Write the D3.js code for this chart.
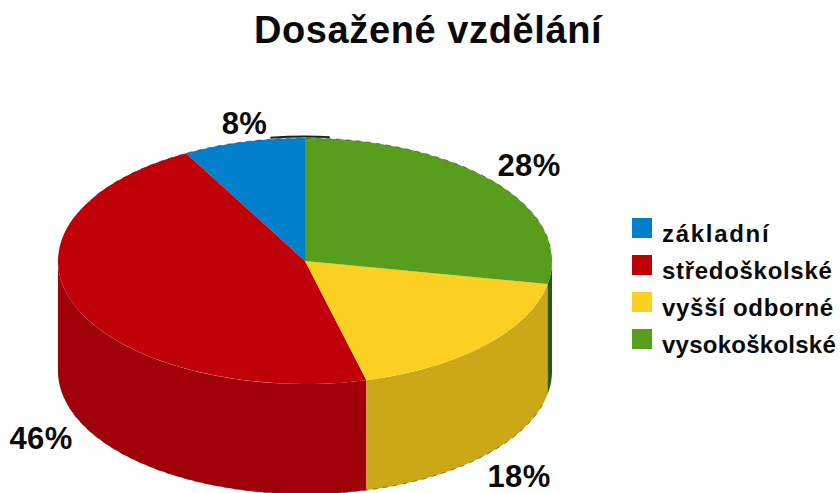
<!DOCTYPE html>
<html><head><meta charset="utf-8">
<script src="https://cdn.jsdelivr.net/npm/d3@7"></script>
<style>html,body{margin:0;padding:0;background:#fff}svg{display:block}text{font-family:"Liberation Sans",Arial,sans-serif;font-weight:bold;fill:#0a0a0a}</style>
</head><body><svg width="840" height="493"></svg>
<script>
const title = "Dosažené vzdělání";
const categories = ["základní","středoškolské","vyšší odborné","vysokoškolské"];
const values = [8,46,18,28];
const topColors = ["#0080cc","#c00008","#fcd020","#589e1c"];
const sideColors = ["#005a90","#a00008","#cca818","#245c0e"];
const legendTracking = [1.7,0.7,0.7,0.25];

const svg = d3.select("svg");
const cx = 305, cy = 261, rx = 247, ry = 123, depth = 110;

// pie runs counter-clockwise from 12 o'clock so that the last category starts there going clockwise
const pie = d3.pie().sort(null).value(d => d.v).startAngle(2*Math.PI).endAngle(0);
const slices = pie(categories.map((c,i)=>({c,v:values[i],i})));

const px = d3.scaleLinear().domain([-1,1]).range([cx-rx,cx+rx]);
const py = d3.scaleLinear().domain([-1,1]).range([cy-ry,cy+ry]);
const rim = (a,dy) => [px(Math.sin(a)),py(-Math.cos(a))+dy];
const sweep = (lo,hi) => d3.range(0,61).map(k=>lo+(hi-lo)*k/60);

// side walls (visible where the rim faces the viewer: angle between 90 and 270 degrees)
function wallPath(a0,a1){
  const lo=Math.max(Math.min(a0,a1),Math.PI/2), hi=Math.min(Math.max(a0,a1),3*Math.PI/2);
  if(hi<=lo) return null;
  const ang=sweep(lo,hi);
  return d3.line()(ang.map(a=>rim(a,0)).concat(ang.slice().reverse().map(a=>rim(a,depth))))+"Z";
}
svg.append("g").selectAll("path").data(slices).join("path")
  .attr("d",d=>wallPath(d.startAngle,d.endAngle))
  .attr("fill",d=>sideColors[d.data.i]);

// top face
const arc = d3.arc().innerRadius(0).outerRadius(rx);
svg.append("path").attr("d",d3.arc().innerRadius(rx-1).outerRadius(rx+3).startAngle(-0.14).endAngle(0.1)())
  .attr("transform",`translate(${cx},${cy-1}) scale(1,${ry/rx})`).attr("fill","#122");
svg.append("g").attr("transform",`translate(${cx},${cy}) scale(1,${ry/rx})`)
  .selectAll("path").data(slices).join("path")
  .attr("d",d=>arc({innerRadius:0,outerRadius:rx,startAngle:d.startAngle,endAngle:d.endAngle}))
  .attr("fill",d=>topColors[d.data.i]);

// speckled dark rim along the outline
const outline = (lo,hi,dy) => d3.line()(sweep(lo,hi).map(a=>rim(a,dy)));
svg.append("g").attr("fill","none").attr("stroke","#222").attr("stroke-opacity",0.5)
  .attr("stroke-dasharray","5 5")
  .selectAll("path").data([outline(-1.0,1.45,0),outline(1.85,4.4,depth)]).join("path").attr("d",d=>d);

svg.append("text").attr("x",254).attr("y",43).attr("letter-spacing",0.6)
  .attr("font-size",38).text(title);

// value labels
const labelPos = [[244.5,134],[41,449],[519,487],[529,176]];
svg.append("g").selectAll("text").data(values).join("text")
  .attr("x",(d,i)=>labelPos[i][0]).attr("y",(d,i)=>labelPos[i][1])
  .attr("text-anchor","middle").attr("font-size",31).attr("letter-spacing",0.4).text(d=>d+"%");

// legend
const ly = d3.scalePoint().domain(categories).range([218,329]);
const lg = svg.append("g").selectAll("g").data(categories).join("g")
  .attr("transform",d=>`translate(632,${ly(d)})`);
lg.append("rect").attr("width",20).attr("height",20).attr("fill",(d,i)=>topColors[i]);
lg.append("text").attr("x",30).attr("y",23.5).attr("font-size",24)
  .attr("letter-spacing",(d,i)=>legendTracking[i]).text(d=>d);
</script></body></html>
